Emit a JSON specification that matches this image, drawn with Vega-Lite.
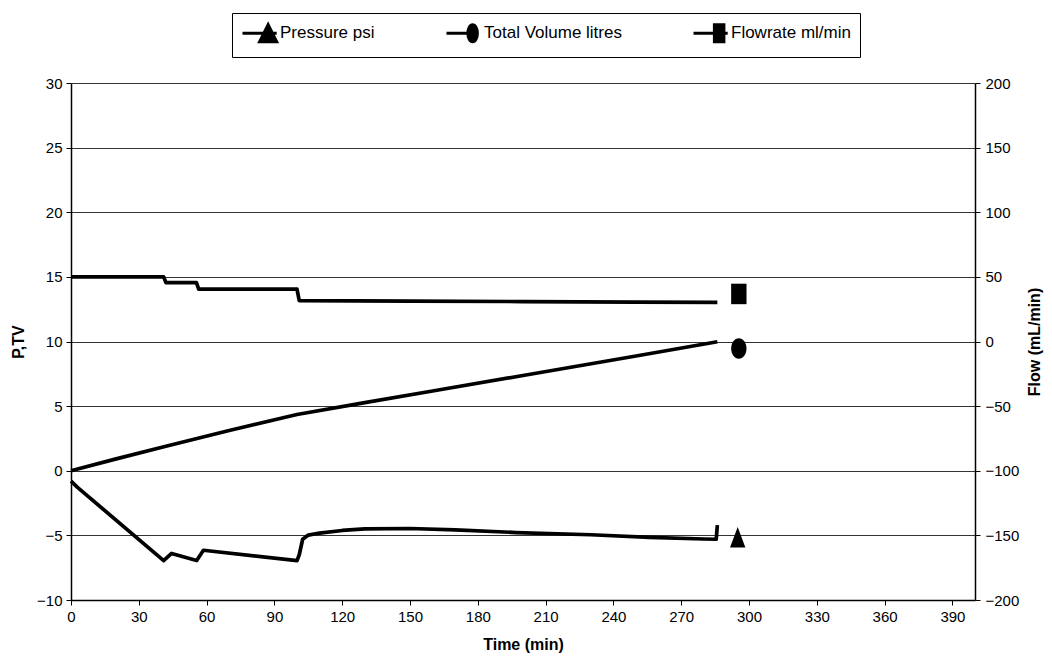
{
  "$schema": "https://vega.github.io/schema/vega-lite/v6.json",
  "width": 904,
  "height": 517,
  "autosize": {"type": "none"},
  "padding": {"left": 71, "top": 83, "right": 77, "bottom": 66},
  "background": "white",
  "config": {
    "font": "Liberation Sans",
    "view": {"stroke": null},
    "axis": {
      "domainColor": "black",
      "tickColor": "black",
      "labelColor": "black",
      "titleColor": "black",
      "labelFontSize": 15,
      "titleFontSize": 16,
      "titleFontWeight": "bold",
      "labelFont": "Liberation Sans",
      "titleFont": "Liberation Sans",
      "tickSize": 5,
      "domainWidth": 1.5
    }
  },
  "datasets": {
    "pv": [
      {"t": 0, "v": -0.8, "series": "Pressure psi"},
      {"t": 3, "v": -1.3, "series": "Pressure psi"},
      {"t": 6, "v": -1.75, "series": "Pressure psi"},
      {"t": 41, "v": -6.95, "series": "Pressure psi"},
      {"t": 44.5, "v": -6.4, "series": "Pressure psi"},
      {"t": 55.6, "v": -6.95, "series": "Pressure psi"},
      {"t": 58.6, "v": -6.15, "series": "Pressure psi"},
      {"t": 100, "v": -6.95, "series": "Pressure psi"},
      {"t": 101, "v": -6.5, "series": "Pressure psi"},
      {"t": 102.5, "v": -5.3, "series": "Pressure psi"},
      {"t": 105, "v": -4.98, "series": "Pressure psi"},
      {"t": 110, "v": -4.82, "series": "Pressure psi"},
      {"t": 120, "v": -4.62, "series": "Pressure psi"},
      {"t": 130, "v": -4.5, "series": "Pressure psi"},
      {"t": 150, "v": -4.47, "series": "Pressure psi"},
      {"t": 170, "v": -4.57, "series": "Pressure psi"},
      {"t": 197, "v": -4.78, "series": "Pressure psi"},
      {"t": 230, "v": -4.95, "series": "Pressure psi"},
      {"t": 256, "v": -5.15, "series": "Pressure psi"},
      {"t": 280, "v": -5.28, "series": "Pressure psi"},
      {"t": 285.5, "v": -5.3, "series": "Pressure psi"},
      {"t": 286, "v": -4.2, "series": "Pressure psi"},
      {"t": 0, "v": 0, "series": "Total Volume litres"},
      {"t": 20, "v": 0.92, "series": "Total Volume litres"},
      {"t": 42, "v": 1.9, "series": "Total Volume litres"},
      {"t": 70, "v": 3.12, "series": "Total Volume litres"},
      {"t": 100, "v": 4.35, "series": "Total Volume litres"},
      {"t": 130, "v": 5.27, "series": "Total Volume litres"},
      {"t": 160, "v": 6.17, "series": "Total Volume litres"},
      {"t": 200, "v": 7.37, "series": "Total Volume litres"},
      {"t": 250, "v": 8.88, "series": "Total Volume litres"},
      {"t": 286, "v": 9.98, "series": "Total Volume litres"}
    ],
    "flow": [
      {"t": 0, "flow": 50},
      {"t": 41, "flow": 50},
      {"t": 42, "flow": 45.5},
      {"t": 55.5, "flow": 45.5},
      {"t": 56.5, "flow": 40.5},
      {"t": 100, "flow": 40.5},
      {"t": 101, "flow": 31.6},
      {"t": 150, "flow": 31.3},
      {"t": 200, "flow": 30.9},
      {"t": 250, "flow": 30.5},
      {"t": 286, "flow": 30.3}
    ],
    "pvmarkers": [
      {"t": 295, "v": -5.15, "series": "Pressure psi"},
      {"t": 295.5, "v": 9.45, "series": "Total Volume litres"}
    ],
    "flowmarker": [
      {"t": 295.5, "flow": 36.8, "series": "Flowrate ml/min"}
    ],
    "legendrows": [
      {"t": 295, "v": -5.15, "series": "Pressure psi"},
      {"t": 295.5, "v": 9.45, "series": "Total Volume litres"},
      {"t": 295.5, "v": 13.68, "series": "Flowrate ml/min"}
    ]
  },
  "layer": [
    {
      "data": {"name": "pv"},
      "mark": {"type": "line", "color": "black", "strokeWidth": 3.7, "strokeJoin": "round"},
      "encoding": {
        "x": {
          "field": "t", "type": "quantitative",
          "scale": {"domain": [0, 400], "nice": false, "zero": false},
          "axis": {"title": "Time (min)", "values": [0,30,60,90,120,150,180,210,240,270,300,330,360,390], "grid": false, "labelPadding": 4, "titlePadding": 12, "labelFlush": false}
        },
        "y": {
          "field": "v", "type": "quantitative",
          "scale": {"domain": [-10, 30], "nice": false, "zero": false},
          "axis": {"title": "P,TV", "values": [-10,-5,0,5,10,15,20,25,30], "grid": true, "gridColor": "#333", "gridWidth": 1, "labelPadding": 4, "titlePadding": 10}
        },
        "detail": {"field": "series"}
      }
    },
    {
      "data": {"name": "flow"},
      "mark": {"type": "line", "color": "black", "strokeWidth": 3.7, "strokeJoin": "round"},
      "encoding": {
        "x": {"field": "t", "type": "quantitative"},
        "y": {
          "field": "flow", "type": "quantitative",
          "scale": {"domain": [-200, 200], "nice": false, "zero": false},
          "axis": {"orient": "right", "title": "Flow (mL/min)", "values": [-200,-150,-100,-50,0,50,100,150,200], "grid": false, "labelPadding": 5, "titlePadding": 8, "titleAngle": 270, "titleBaseline": "top"}
        }
      }
    },
    {
      "data": {"name": "pvmarkers"},
      "mark": {"type": "point", "filled": true, "color": "black", "opacity": 1, "size": 420},
      "encoding": {
        "x": {"field": "t", "type": "quantitative"},
        "y": {"field": "v", "type": "quantitative", "scale": {"domain": [-10, 30], "nice": false, "zero": false}, "axis": null},
        "shape": {
          "field": "series", "type": "nominal",
          "scale": {"domain": ["Pressure psi", "Total Volume litres"], "range": ["M0,-1L0.75,1H-0.75Z", "M0,-1A0.75,1,0,1,1,0,1A0.75,1,0,1,1,0,-1Z"]},
          "legend": null
        }
      }
    },
    {
      "data": {"name": "flowmarker"},
      "mark": {"type": "point", "filled": true, "color": "black", "opacity": 1, "size": 420},
      "encoding": {
        "x": {"field": "t", "type": "quantitative"},
        "y": {"field": "flow", "type": "quantitative", "scale": {"domain": [-200, 200], "nice": false, "zero": false}, "axis": null},
        "shape": {
          "field": "series", "type": "nominal",
          "scale": {"domain": ["Flowrate ml/min"], "range": ["M-0.75,-1H0.75V1H-0.75Z"]},
          "legend": null
        }
      }
    },
    {
      "data": {"name": "legendrows"},
      "mark": {"type": "point", "filled": false, "fill": "black", "stroke": "black", "strokeWidth": 3, "opacity": 0, "size": 10},
      "encoding": {
        "x": {"field": "t", "type": "quantitative"},
        "y": {"field": "v", "type": "quantitative", "scale": {"domain": [-10, 30], "nice": false, "zero": false}, "axis": null},
        "shape": {
          "field": "series", "type": "nominal",
          "scale": {
            "domain": ["Pressure psi", "Total Volume litres", "Flowrate ml/min"],
            "range": [
              "M-1,0H2.6M1.7,-0.9L2.6,0.9H0.8Z",
              "M-1,0H1.3M1.75,-0.9A0.5,0.9,0,1,1,1.75,0.9A0.5,0.9,0,1,1,1.75,-0.9Z",
              "M-1,0H2.6M1.2,-0.9H2.2V0.9H1.2Z"
            ]
          },
          "legend": {
            "orient": "none",
            "legendX": 161,
            "legendY": -70,
            "direction": "horizontal",
            "title": null,
            "padding": 9,
            "strokeColor": "black",
            "fillColor": "white",
            "labelFontSize": 17,
            "labelColor": "black",
            "labelFont": "Liberation Sans",
            "symbolSize": 361,
            "symbolOpacity": 1,
            "symbolStrokeWidth": 3,
            "labelOffset": 17,
            "columnPadding": 65
          }
        }
      }
    }
  ],
  "resolve": {"scale": {"y": "independent", "shape": "independent"}, "axis": {"y": "independent"}, "legend": {"shape": "independent"}}
}
